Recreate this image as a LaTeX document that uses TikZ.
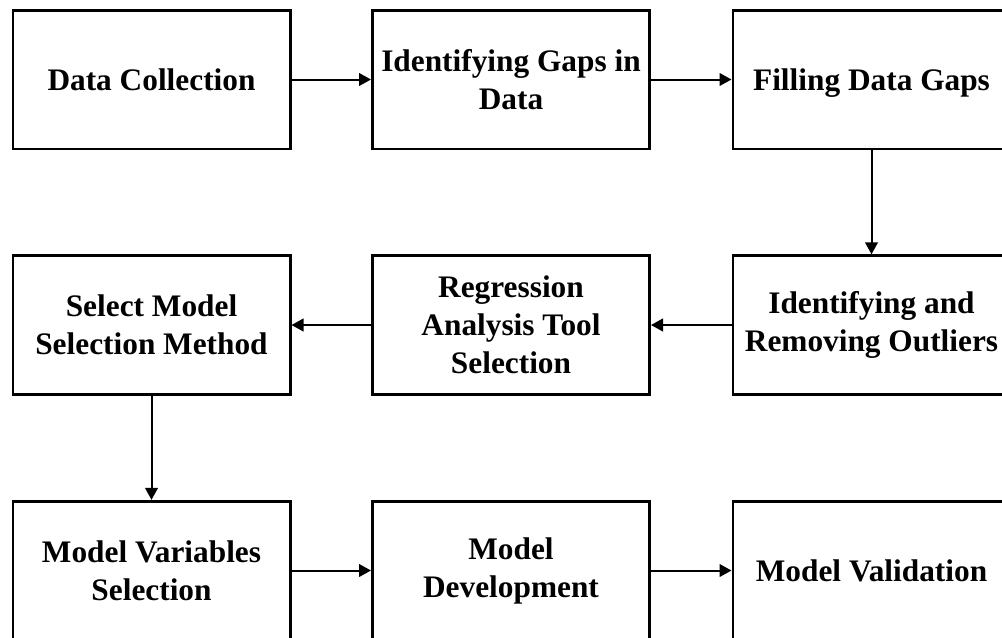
\documentclass[tikz,border=0pt]{standalone}
\usepackage{fontspec}
\setmainfont{Liberation Serif}
\usetikzlibrary{arrows.meta}

\begin{document}
\begin{tikzpicture}[x=0.75pt,y=0.75pt,yscale=-1,xscale=1,
  stepbox/.style={draw,line width=2pt,minimum width=208pt,minimum height=104pt,
    align=center,inner sep=0pt,font=\fontsize{23.5}{28.5}\selectfont\bfseries},
  flow/.style={line width=1.5pt,-{Triangle[length=9pt,width=9.5pt]}}]
\useasboundingbox (0,0) rectangle (1002,637);

% Row 1
\node[stepbox] (collect) at (151.5,79.5) {Data Collection};
\node[stepbox] (gaps) at (511,79.5) {Identifying Gaps in\\Data};
\node[stepbox] (fill) at (871.5,79.5) {\raisebox{0pt}[\height][0pt]{Filling Data Gaps}};

% Row 2
\node[stepbox] (method) at (151.5,325) {Select Model\\Selection Method};
\node[stepbox] (tool) at (511,325) {Regression\\Analysis Tool\\Selection};
\node[stepbox] (outliers) at (871.5,325) {Identifying and\\Removing Outliers};

% Row 3
\node[stepbox] (vars) at (151.5,570.5) {Model Variables\\Selection};
\node[stepbox] (develop) at (511,570.5) {Model\\Development};
\node[stepbox] (valid) at (871.5,570.5) {Model Validation};

% Arrows
\draw[flow] (collect) -- (gaps);
\draw[flow] (gaps) -- (fill);
\draw[flow] (fill) -- (outliers);
\draw[flow] (outliers) -- (tool);
\draw[flow] (tool) -- (method);
\draw[flow] (method) -- (vars);
\draw[flow] (vars) -- (develop);
\draw[flow] (develop) -- (valid);

\end{tikzpicture}
\end{document}
